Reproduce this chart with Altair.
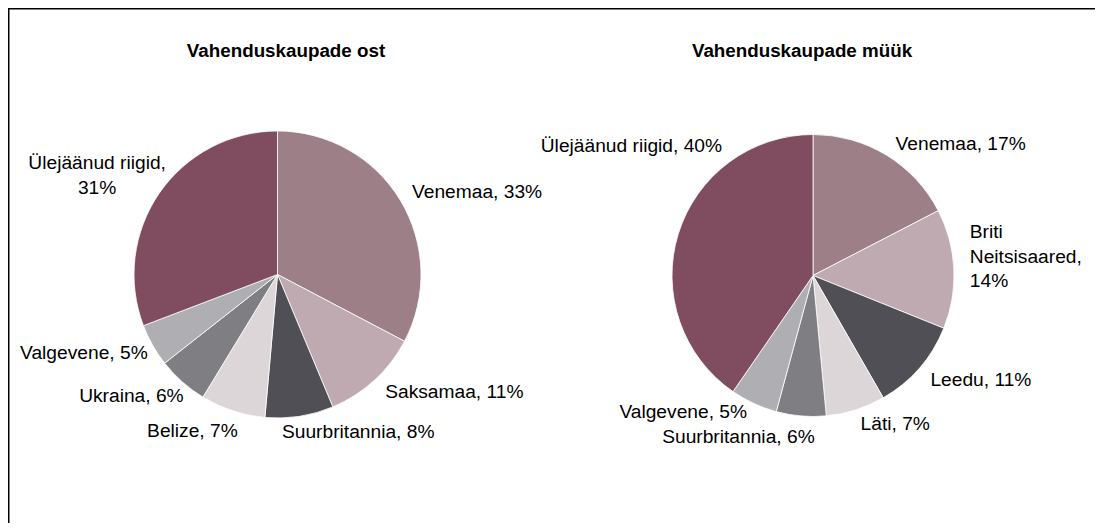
import altair as alt
import pandas as pd

# ---- data ----
ost_categories = ["Venemaa", "Saksamaa", "Suurbritannia", "Belize", "Ukraina",
                  "Valgevene", "Ülejäänud riigid"]
ost_values = [32.7, 11.0, 7.7, 7.3, 5.7, 4.8, 30.8]
ost_labels = ["Venemaa, 33%", "Saksamaa, 11%", "Suurbritannia, 8%", "Belize, 7%",
              "Ukraina, 6%", "Valgevene, 5%", "Ülejäänud riigid,\n31%"]

myyk_categories = ["Venemaa", "Briti Neitsisaared", "Leedu", "Läti", "Suurbritannia",
                   "Valgevene", "Ülejäänud riigid"]
myyk_values = [17.4, 13.7, 10.6, 6.8, 5.7, 5.4, 40.4]
myyk_labels = ["Venemaa, 17%", "Briti\nNeitsisaared,\n14%", "Leedu, 11%", "Läti, 7%",
               "Suurbritannia, 6%", "Valgevene, 5%", "Ülejäänud riigid, 40%"]

titles = ["Vahenduskaupade ost", "Vahenduskaupade müük"]

# ---- styles / label placement (annotation tweaks, not data) ----
palette = ["#9D7F88", "#BEAAB0", "#504F55", "#DCD6D9", "#7F7E83", "#AFAFB3", "#7F4D5F"]
ost_label_align = ["left", "left", "left", "right", "right", "right", "center"]
ost_label_dx = [-2, 0, -20, 10, 12, 9, -49]
ost_label_dy = [0, 0, 0, 5, 2, 0, -21]
myyk_label_align = ["left", "left", "left", "left", "right", "right", "right"]
myyk_label_dx = [1, 0, -1, 0, 15, 0, 59]
myyk_label_dy = [3, -36, 1, -1, 5, -6, -83]

FONT = "Liberation Sans"
W, H = 1087, 515


def make_df(cats, vals, labels, align, dx, dy):
    return pd.DataFrame({
        "idx": list(range(len(cats))),
        "cat": cats,
        "v": vals,
        "label": labels,
        "col": palette[:len(cats)],
        "al": align,
        "ndx": dx,
        "ndy": dy,
    })


def pie(df, cx, cy, r):
    R = r + 16
    base = (
        alt.Chart(df)
        .transform_joinaggregate(total="sum(v)")
        .transform_window(cum="sum(v)", sort=[alt.SortField("idx")], frame=[None, 0])
        .transform_calculate(
            a0="2*PI*(datum.cum-datum.v)/datum.total",
            a1="2*PI*datum.cum/datum.total",
            mid="PI*(2*datum.cum-datum.v)/datum.total",
        )
        .transform_calculate(
            lx=f"{cx}+{R}*sin(datum.mid)+datum.ndx",
            ly=f"{cy}-{R}*cos(datum.mid)+datum.ndy",
        )
    )
    arcs = base.mark_arc(radius=r, stroke="white", strokeWidth=0.8).encode(
        x=alt.value(cx),
        y=alt.value(cy),
        theta=alt.Theta("a0:Q", scale=None),
        theta2=alt.Theta2("a1:Q"),
        color=alt.Color("col:N", scale=None),
    )
    txt_kw = dict(font=FONT, fontSize=19.2, color="black", baseline="middle",
                  lineBreak="\n", lineHeight=24.5)
    enc = dict(x=alt.X("lx:Q", scale=None, axis=None),
               y=alt.Y("ly:Q", scale=None, axis=None),
               text="label:N")
    out = [arcs]
    for a in ["left", "right", "center"]:
        out.append(
            base.transform_filter(alt.datum.al == a)
            .mark_text(align=a, **txt_kw)
            .encode(**enc)
        )
    return out


df_ost = make_df(ost_categories, ost_values, ost_labels,
                 ost_label_align, ost_label_dx, ost_label_dy)
df_myyk = make_df(myyk_categories, myyk_values, myyk_labels,
                  myyk_label_align, myyk_label_dx, myyk_label_dy)

title_df = pd.DataFrame({"t": titles})
title_kw = dict(font=FONT, fontSize=18.8, fontWeight="bold", color="black",
                align="center", baseline="alphabetic")
title1 = alt.Chart(title_df).transform_filter(alt.datum.t == titles[0]).mark_text(
    **title_kw).encode(x=alt.value(278), y=alt.value(49), text="t:N")
title2 = alt.Chart(title_df).transform_filter(alt.datum.t == titles[1]).mark_text(
    **title_kw).encode(x=alt.value(794), y=alt.value(49), text="t:N")

frame_df = pd.DataFrame({"a": [0]})
top_line = alt.Chart(frame_df).mark_rule(color="black", strokeWidth=1.5).encode(
    x=alt.value(0), x2=alt.value(W), y=alt.value(0.75)
)
left_line = alt.Chart(frame_df).mark_rule(color="black", strokeWidth=1.5).encode(
    x=alt.value(0.75), y=alt.value(0), y2=alt.value(H)
)

layers = [top_line, left_line, title1, title2]
layers += pie(df_ost, 269.5, 266.5, 143.5)
layers += pie(df_myyk, 805, 267.5, 141)

chart = (
    alt.layer(*layers)
    .properties(width=W, height=H, padding=0, autosize=alt.AutoSizeParams(type="none"))
    .configure_view(stroke=None)
)

chart.save("out.html", embed_options={"renderer": "svg", "actions": False})
